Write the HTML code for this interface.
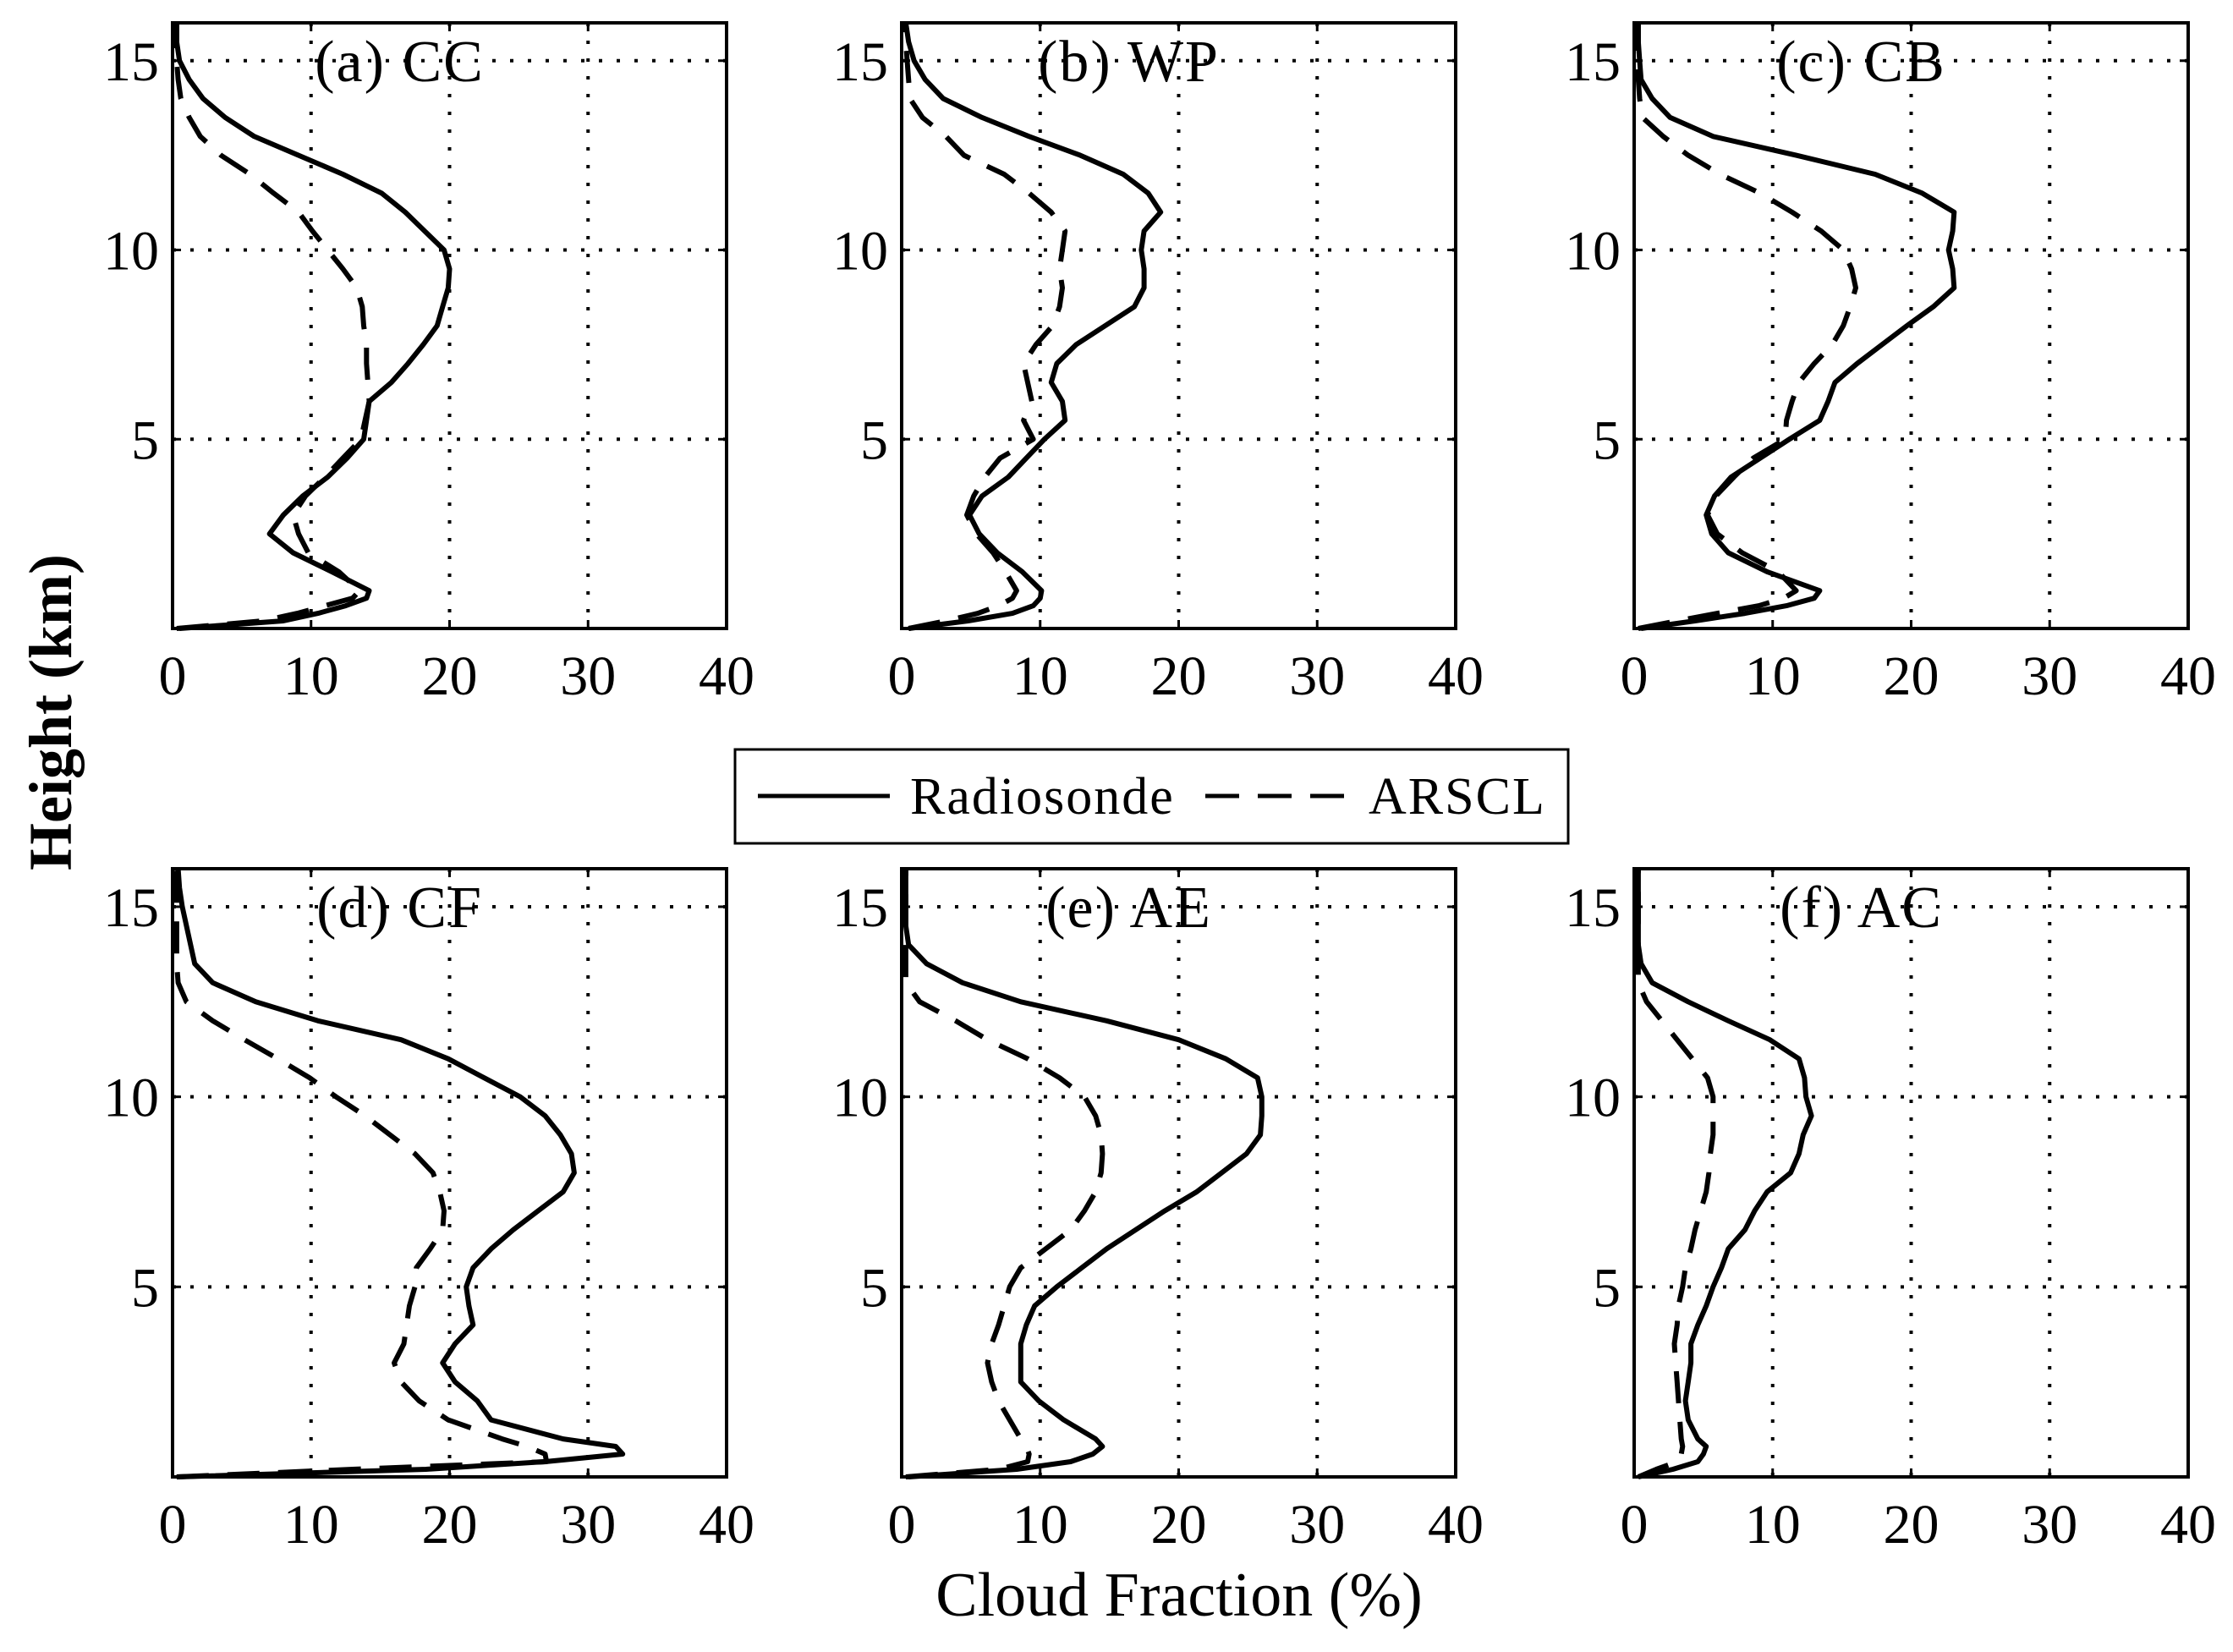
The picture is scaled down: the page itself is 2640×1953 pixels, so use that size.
<!DOCTYPE html>
<html><head><meta charset="utf-8">
<style>
html,body{margin:0;padding:0;background:#fff;}
svg{display:block;}
text{font-family:"Liberation Serif","DejaVu Serif",serif;fill:#000;}
</style></head>
<body>
<svg id="chart" width="2640" height="1953" viewBox="0 0 2640 1953" xmlns="http://www.w3.org/2000/svg" font-family="Liberation Serif, DejaVu Serif, serif">
  <rect width="2640" height="1953" fill="#fff"/>
  <text transform="translate(84,842) rotate(-90)" text-anchor="middle" font-size="72" font-weight="bold">Height (km)</text>
  <text x="1394" y="1910" text-anchor="middle" font-size="74">Cloud Fraction (%)</text>
  <g>
    <rect x="869" y="886" width="985" height="111" fill="#fff" stroke="#000" stroke-width="3"/>
    <line x1="896" y1="941" x2="1052" y2="941" stroke="#000" stroke-width="5"/>
    <text x="1076" y="962" font-size="62" letter-spacing="2">Radiosonde</text>
    <line x1="1425" y1="941" x2="1595" y2="941" stroke="#000" stroke-width="5" stroke-dasharray="40,22"/>
    <text x="1618" y="962" font-size="62" letter-spacing="2">ARSCL</text>
  </g>
</svg>
<script>
const heights = [0,0.2,0.4,0.6,0.8,1,1.5,2,2.5,3,3.5,4,4.5,5,5.5,6,6.5,7,7.5,8,8.5,9,9.5,10,10.5,11,11.5,12,12.5,13,13.5,14,14.5,15,15.5,16];
const panelTitles = ["(a) CC","(b) WP","(c) CB","(d) CF","(e) AE","(f) AC"];
const xTicks = [0,10,20,30,40];
const yTicks = [5,10,15];
const radioA = [0.5,8,10.5,12.5,14,14.2,11.5,8.7,7,8,9.4,11.2,12.6,13.8,14,14.2,15.8,17,18.1,19.1,19.5,19.9,20,19.6,18.2,16.8,15.1,12.3,9.1,5.9,3.8,2.2,1.2,0.5,0.3,0.3];
const arsclA = [0.3,6.5,9,11,13,13.5,12,9.8,9.1,8.7,9.6,11,12.3,13.6,13.9,14.2,14.1,14,14,13.8,13.7,13.3,12.3,11.2,10.1,9.1,7.3,5.6,3.5,2,1.2,0.6,0.4,0.3,0.3,0.3];
const radioB = [0.5,4.8,8,9.5,10,10.1,8.7,6.9,5.6,4.9,5.8,7.7,9,10.3,11.8,11.6,10.8,11.2,12.6,14.7,16.8,17.5,17.5,17.3,17.5,18.7,17.8,16,12.9,9.2,5.8,3,1.7,0.9,0.5,0.3];
const arsclB = [0.5,3.2,5.5,7,8,8.3,7.5,6.6,5.4,4.7,5.2,6,7.1,9.5,8.8,9.4,9.1,8.8,9.7,10.9,11.4,11.6,11.4,11.6,11.8,10.8,9.2,7.4,4.5,3.2,1.5,0.6,0.5,0.4,0.3,0.3];
const radioC = [0.5,4.4,8,11,13,13.4,9.6,6.8,5.6,5.2,5.8,7,9.1,11.2,13.4,14,14.5,16.1,17.9,19.7,21.6,23.1,23,22.7,23,23.1,20.8,17.4,11.7,5.7,2.6,1.3,0.5,0.4,0.3,0.3];
const arsclC = [0.3,3.1,6,9,10.8,11.7,10.4,7.8,6,5.3,5.9,7.2,8.6,10.9,11,11.4,11.9,13,14.3,15.1,15.6,16,15.7,15.1,13.5,11.4,9.1,6.2,3.9,2.1,0.6,0.4,0.3,0.3,0.3,0.3];
const radioD = [0.3,18.3,26.9,32.5,32,28.2,23,22,20.4,19.5,20.4,21.7,21.4,21.2,21.7,23,24.6,26.4,28.2,29,28.8,28,26.9,25.1,22.5,19.9,16.5,10.5,6,2.9,1.6,1.3,1,0.7,0.5,0.4];
const arsclD = [0.3,13,27,26.9,25.6,23.8,19.9,17.8,16.5,16,16.7,16.9,17.1,17.5,17.6,18.6,19.5,19.6,19.3,18.8,17.5,15.7,13.9,11.8,9.9,7.6,5.2,2.9,1,0.4,0.3,0.3,0.3,0.3,0.3,0.3];
const radioE = [0.5,8.3,12.2,13.8,14.5,14,11.7,9.9,8.6,8.6,8.6,9,9.6,11.2,13,14.8,16.9,19,21.3,23.1,24.9,25.9,26,26,25.7,23.4,20,14.8,8.6,4.4,1.8,0.5,0.3,0.3,0.3,0.3];
const arsclE = [0.3,7,9.1,9.2,9,8.6,7.8,7,6.5,6.2,6.5,7,7.4,7.8,8.6,10.4,12.2,13.2,14,14.4,14.5,14.4,14,13.2,11.4,9.1,6.2,3.9,1.3,0.3,0.3,0.3,0.3,0.3,0.3,0.3];
const radioF = [0.3,2.8,4.6,5,5.2,4.6,3.9,3.7,3.9,4.1,4.1,4.6,5.2,5.7,6.3,6.8,8,8.7,9.6,11.3,11.9,12.2,12.8,12.4,12.3,11.9,9.8,6.8,3.9,1.3,0.5,0.3,0.3,0.3,0.3,0.3];
const arsclF = [0.3,1.6,3.1,3.4,3.5,3.4,3.3,3.2,3.1,3,2.9,3.1,3.2,3.5,3.7,4.1,4.4,4.8,5.2,5.4,5.5,5.7,5.7,5.7,5.3,4.2,3.1,2,0.9,0.3,0.3,0.3,0.3,0.3,0.3,0.3];
const radioSeries = [radioA,radioB,radioC,radioD,radioE,radioF];
const arsclSeries = [arsclA,arsclB,arsclC,arsclD,arsclE,arsclF];

const NS = "http://www.w3.org/2000/svg";
const svg = document.getElementById("chart");
const lefts = [204,1066,1932];
const tops = [27,1027], bottoms = [743,1746];
const W = 655, XMAX = 40, YMAX = 16;
function mk(tag, attrs, parent){const e=document.createElementNS(NS,tag);for(const k in attrs)e.setAttribute(k,attrs[k]);(parent||svg).appendChild(e);return e;}

for(let p=0;p<6;p++){
  const col=p%3,row=Math.floor(p/3);
  const L=lefts[col],T=tops[row],B=bottoms[row];
  const xs=v=>L+v/XMAX*W;
  const ys=v=>B-v/YMAX*(B-T);
  const g=mk("g",{});
  
  
  xTicks.forEach(t=>{
    if(t>0&&t<XMAX){
      const gl=mk("line",{x1:xs(t),x2:xs(t),y1:T,y2:B,stroke:"#000","stroke-width":4,"stroke-dasharray":"4,17"},g);
      
      
      mk("line",{x1:xs(t),x2:xs(t),y1:B,y2:B-10,stroke:"#000","stroke-width":3},g);
      mk("line",{x1:xs(t),x2:xs(t),y1:T,y2:T+10,stroke:"#000","stroke-width":3},g);
    }
    const tl=mk("text",{x:xs(t),y:B+78,"text-anchor":"middle","font-size":66},g);
    tl.textContent=t;
    
    
  });
  yTicks.forEach(t=>{
    const gl=mk("line",{x1:L,x2:L+W,y1:ys(t),y2:ys(t),stroke:"#000","stroke-width":4,"stroke-dasharray":"4,17"},g);
    
    
    mk("line",{x1:L,x2:L+10,y1:ys(t),y2:ys(t),stroke:"#000","stroke-width":3},g);
    mk("line",{x1:L+W,x2:L+W-10,y1:ys(t),y2:ys(t),stroke:"#000","stroke-width":3},g);
    const tl=mk("text",{x:L-16,y:ys(t)+23,"text-anchor":"end","font-size":66},g);
    tl.textContent=t;
    
    
  });
  const title=mk("text",{x:xs(16.4),y:ys(15)+24,"text-anchor":"middle","font-size":70,"letter-spacing":"2"},g);
  title.textContent=panelTitles[p];
  
  
  const ptsA=arsclSeries[p].map((v,i)=>xs(v).toFixed(1)+","+ys(heights[i]).toFixed(1)).join(" ");
  const la=mk("polyline",{points:ptsA,fill:"none",stroke:"#000","stroke-width":6,"stroke-dasharray":"38,22","stroke-linejoin":"round"},g);
  
  
  const ptsR=radioSeries[p].map((v,i)=>xs(v).toFixed(1)+","+ys(heights[i]).toFixed(1)).join(" ");
  const lr=mk("polyline",{points:ptsR,fill:"none",stroke:"#000","stroke-width":6,"stroke-linejoin":"round"},g);
  
  
  const fr=mk("rect",{x:L,y:T,width:W,height:B-T,fill:"none",stroke:"#000","stroke-width":4},g);
  
  
}
</script>
</body></html>
